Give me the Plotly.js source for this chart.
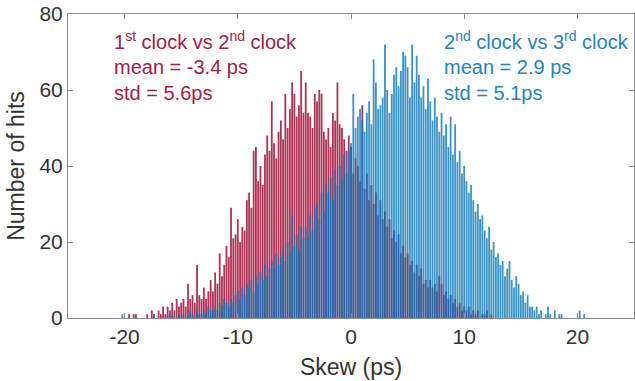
<!DOCTYPE html>
<html>
<head>
<meta charset="utf-8">
<script src="https://cdn.plot.ly/plotly-3.0.1.min.js"></script>
<style>html,body{margin:0;padding:0;background:#fff;}#chart{width:635px;height:381px;}</style>
</head>
<body>
<div id="chart"></div>
<script>
// Histogram bins: first bin centre and bin width (ps)
const binStart = -21.0;
const binWidth = 0.2;

// 1st clock vs 2nd clock, counts per bin from -21.0 to 21.0 ps
const countsClock12 = [
  0,0,0,0,0,   0,0,1,0,1,   1,0,0,0,0,   1,0,2,1,0,   2,1,3,1,3,
  2,4,2,5,3,   4,5,3,9,5,   6,4,14,6,5,  8,5,7,10,7,  12,9,17,11,14,
  19,16,29,21,22, 26,20,24,23,31, 33,29,44,45,36, 40,35,43,48,44, 57,46,42,49,52,
  47,59,50,55,62, 59,53,56,65,54, 62,54,53,50,59, 57,60,59,49,47, 50,45,54,52,62,
  51,50,47,44,48, 45,38,42,40,36, 56,34,38,31,35, 30,33,27,31,26, 28,24,26,21,23,
  20,22,17,19,16, 17,14,15,12,14, 11,13,9,10,8,  10,8,9,7,11,  9,6,7,5,6,
  4,5,3,4,2,   3,2,3,1,2,   1,2,0,1,1,   2,0,1,0,0,   0,0,0,0,0,
  0,0,0,0,0,   0,0,0,0,0,   0,0,0,0,0,   0,0,0,0,0,   0,0,0,0,0,
  0,0,0,0,0,   0,0,0,0,0,
  0
];

// 2nd clock vs 3rd clock, counts per bin from -21.0 to 21.0 ps
const countsClock23 = [
  0,0,0,0,1,   0,0,0,0,0,   0,0,0,0,0,   0,0,0,1,0,   0,0,0,0,1,
  0,1,0,0,1,   0,1,0,1,2,   1,0,2,1,1,   2,1,3,2,2,   3,2,4,3,5,
  4,3,5,4,6,   7,5,8,6,9,   8,10,7,11,9, 12,10,14,11,13, 15,13,17,14,16,
  18,15,20,17,27, 19,22,18,24,21, 24,21,27,23,29, 30,26,33,28,35, 33,37,31,39,35,
  40,36,43,38,44, 46,59,50,53,55, 52,49,54,57,51, 68,62,55,56,58, 72,60,54,59,64,
  66,61,65,70,69, 66,58,72,62,69, 64,58,61,55,63, 57,52,58,53,49, 54,48,51,45,53,
  43,51,41,44,38, 40,36,33,35,31, 28,30,26,27,23, 21,24,18,20,16, 17,14,15,11,13,
  15,10,8,11,9, 6,7,4,6,3,    3,2,3,1,2,   0,1,3,1,0,   2,0,1,1,0,
  0,0,0,0,0,   0,2,0,1,0,
  0
];

const xTicks = [-20, -10, 0, 10, 20];
const xTickText = ['-20', '-10', '0', '10', '20'];
const yTicks = [0, 20, 40, 60, 80];
const yTickText = ['0', '20', '40', '60', '80'];

const labels12 = ['1<sup>st</sup> clock vs 2<sup>nd</sup> clock', 'mean = -3.4 ps', 'std = 5.6ps'];
const labels23 = ['2<sup>nd</sup> clock vs 3<sup>rd</sup> clock', 'mean = 2.9 ps', 'std = 5.1ps'];

const redColor = 'rgb(176,50,84)';
const blueColor = 'rgb(6,119,187)';
const redText = '#A3204A';
const blueText = '#2383C0';
const FONT = 'Liberation Sans, Arial, Helvetica, sans-serif';

const traces = [
  {type: 'bar', x0: binStart, dx: binWidth, y: countsClock12,
   marker: {color: redColor, line: {width: 0}}, hoverinfo: 'skip'},
  {type: 'bar', x0: binStart, dx: binWidth, y: countsClock23,
   marker: {color: blueColor, line: {width: 0}}, opacity: 0.79, hoverinfo: 'skip'}
];

const lineY = [0.914, 0.826, 0.740];
const annotations = [];
labels12.forEach((t, i) => annotations.push({
  text: t, xref: 'paper', yref: 'paper', x: 0.0777, y: lineY[i],
  xanchor: 'left', yanchor: 'middle', showarrow: false,
  font: {family: FONT, size: 20, color: redText}
}));
labels23.forEach((t, i) => annotations.push({
  text: t, xref: 'paper', yref: 'paper', x: 0.661, y: lineY[i],
  xanchor: 'left', yanchor: 'middle', showarrow: false,
  font: {family: FONT, size: 20, color: blueText}
}));

const axisCommon = {
  showline: true, linecolor: '#8a8a8a', linewidth: 1, mirror: 'ticks',
  ticks: 'inside', ticklen: 5, tickcolor: '#8a8a8a', tickwidth: 1,
  showgrid: false, zeroline: false,
  tickfont: {family: FONT, size: 21, color: '#333333'}
};

const layout = {
  width: 635, height: 381,
  margin: {l: 68, r: 1, t: 14, b: 63},
  paper_bgcolor: '#ffffff', plot_bgcolor: '#ffffff',
  barmode: 'overlay', bargap: 0.2, showlegend: false,
  font: {family: FONT, color: '#333333'},
  xaxis: Object.assign({}, axisCommon, {
    range: [-25, 25], tickmode: 'array', tickvals: xTicks, ticktext: xTickText,
    title: {text: 'Skew (ps)', font: {family: FONT, size: 23, color: '#333333'}, standoff: 11}
  }),
  yaxis: Object.assign({}, axisCommon, {
    range: [0, 80], tickmode: 'array', tickvals: yTicks, ticktext: yTickText,
    title: {text: 'Number of hits', font: {family: FONT, size: 23, color: '#333333'}, standoff: 8}
  }),
  annotations: annotations
};

Plotly.newPlot('chart', traces, layout, {staticPlot: true, displayModeBar: false});
</script>
</body>
</html>
